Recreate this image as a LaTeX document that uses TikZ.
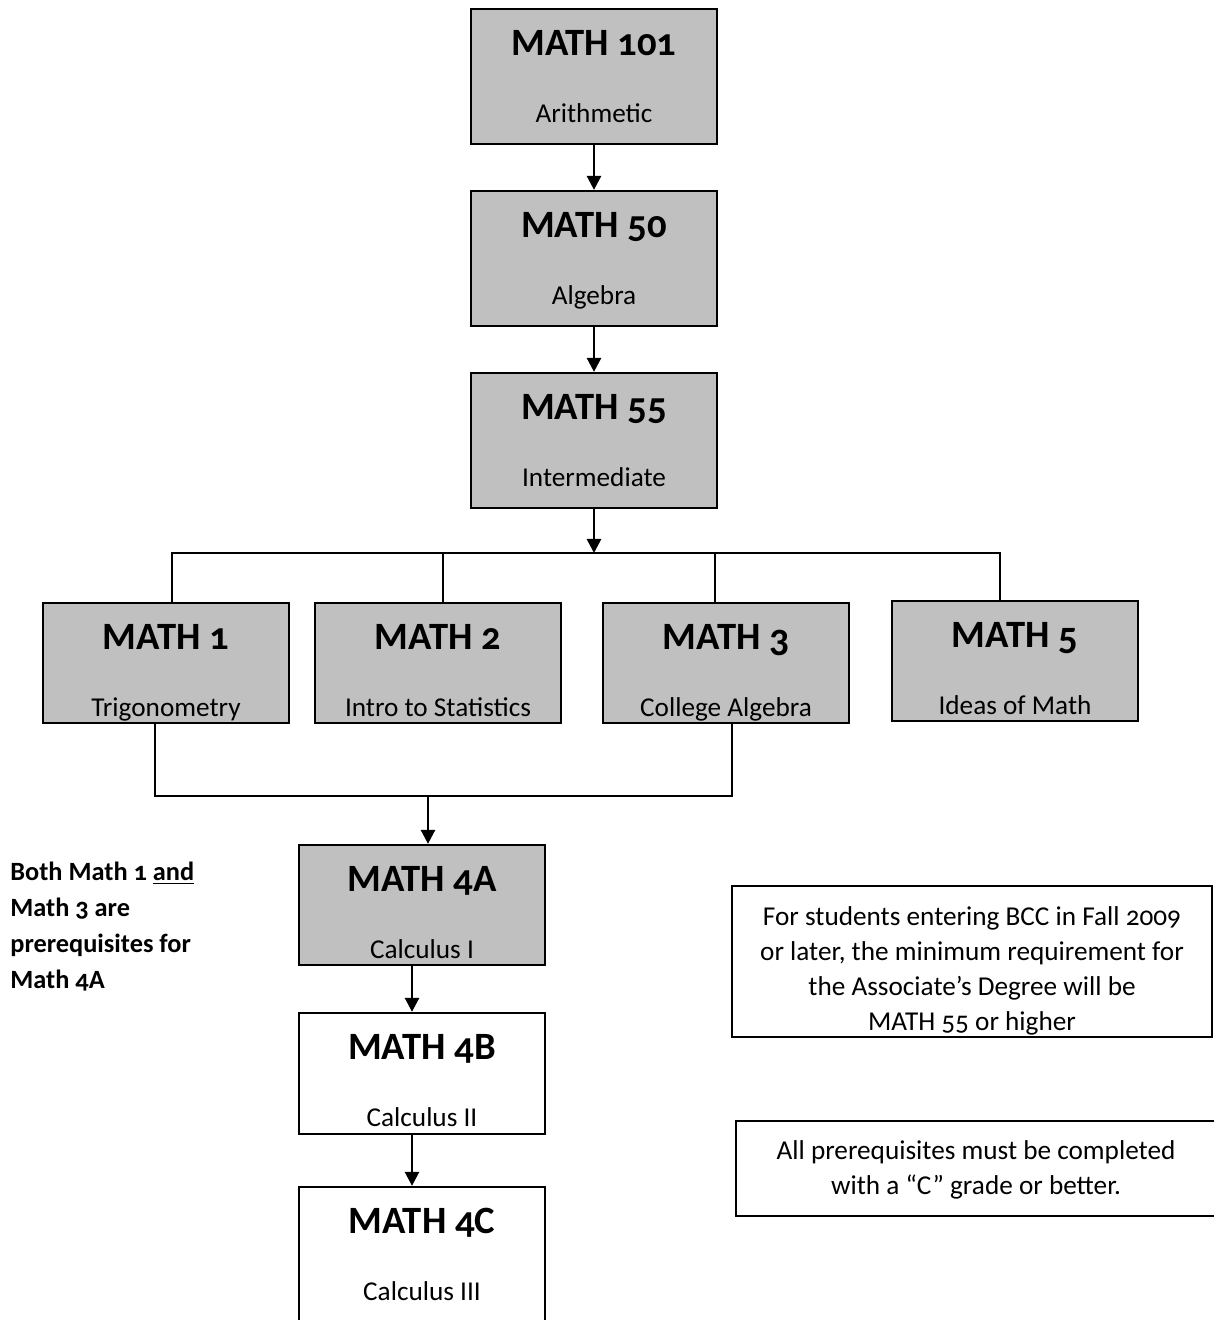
\documentclass[tikz,border=0pt]{standalone}
\usepackage{fontspec}
\setmainfont{Carlito}[Numbers=OldStyle]
\usetikzlibrary{arrows.meta}
\definecolor{boxgray}{RGB}{192,192,192}
\newcommand{\ctitle}[1]{{\bfseries\fontsize{22}{26}\selectfont #1}}
\newcommand{\lin}[1]{{\addfontfeatures{Numbers=Lining}#1}}

\begin{document}
\begin{tikzpicture}[x=0.02cm, y=-0.02cm,
	course/.style={draw, line width=1.3pt, fill=boxgray, minimum width=4.92cm, text width=4.7cm, align=flush center, inner sep=0pt, text height=26.5pt, font=\fontsize{15.5}{18}\selectfont},
	tall/.style={minimum height=2.7cm, text depth=50.3pt},
	short/.style={minimum height=2.4cm, text depth=41.8pt},
	later/.style={course, fill=white},
	notebox/.style={draw, line width=1pt, minimum width=9.6cm, text width=9.4cm, align=flush center, inner sep=0pt, font=\fontsize{15.5}{20}\selectfont},
	arr/.style={-{Triangle[width=8pt,length=8pt]}, line width=1.5pt},
	link/.style={line width=1.1pt}]
	\useasboundingbox (0,0) rectangle (1214,1320);
	\node[course, tall] (101) at (594,76.5) {\ctitle{MATH 101}\\[20pt]Arithmetic};
	\node[course, tall] (50) at (594,258.5) {\ctitle{MATH 50}\\[20pt]Algebra};
	\node[course, tall] (55) at (594,440.5) {\ctitle{MATH 55}\\[20pt]Intermediate};
		\node[course, short] (1) at (166,663) {\ctitle{MATH 1}\\[20pt]Trigonometry};
		\node[course, short] (2) at (438,663) {\ctitle{MATH 2}\\[20pt]Intro to Statistics};
		\node[course, short] (3) at (726,663) {\ctitle{MATH \raisebox{-0.15em}{\lin{3}}}\\[20pt]College Algebra};
		\node[course, short] (5) at (1015,661) {\ctitle{MATH \raisebox{-0.15em}{\lin{5}}}\\[20pt]Ideas of Math};
			\node[course, short] (4A) at (422,905) {\ctitle{MATH 4A}\\[20pt]Calculus I};
			\node[later, minimum height=2.42cm, text depth=42.4pt] (4B) at (422,1073.5) {\ctitle{MATH 4B}\\[20pt]Calculus II};
			\node[later, minimum height=2.8cm, text depth=53.2pt] (4C) at (422,1257) {\ctitle{MATH 4C}\\[20pt]Calculus III};
	\node[anchor=north west, align=left, inner sep=0pt, font=\bfseries\fontsize{15}{20.4}\selectfont] (both) at (10,862) {Both Math 1 \underline{and}\\Math 3 are\\prerequisites for\\Math 4A};
	\node[notebox, minimum height=3.02cm, text height=22.1pt, text depth=63.5pt] (degree) at (972,961.5) {For students entering BCC in Fall 2009\\or later, the minimum requirement for\\the Associate’s Degree will be\\MATH 55 or higher};
	\node[notebox, minimum height=1.9cm, text height=22pt, text depth=31.9pt] (grade) at (976,1168.5) {All prerequisites must be completed\\with a “C” grade or better.};
	\coordinate (split) at (594,553);
	\coordinate (join) at (428,796);
	\draw[arr] (101) -- (50);
	\draw[arr] (50) -- (55);
	\draw[arr] (55) -- (split);
	\draw[link] ([xshift=0.12cm]1.north) |- (split) -| ([xshift=-0.3cm]5.north);
	\draw[link] ([xshift=0.1cm]2.north) -- ([xshift=0.1cm]2.north |- split);
	\draw[link] ([xshift=-0.22cm]3.north) -- ([xshift=-0.22cm]3.north |- split);
	\draw[link] ([xshift=-0.22cm]1.south) |- (join) -| ([xshift=0.12cm]3.south);
	\draw[arr] (join) -- (join |- 4A.north);
	\draw[arr] ([xshift=-0.2cm]4A.south) -- ([xshift=-0.2cm]4B.north);
	\draw[arr] ([xshift=-0.2cm]4B.south) -- ([xshift=-0.2cm]4C.north);
\end{tikzpicture}
\end{document}
